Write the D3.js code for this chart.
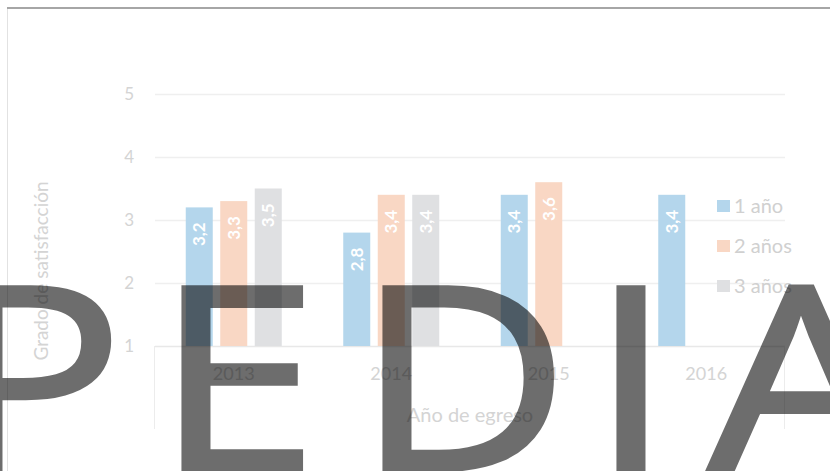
<!DOCTYPE html>
<html>
<head>
<meta charset="utf-8">
<script src="https://cdn.jsdelivr.net/npm/d3@7"></script>
<style>
  body { margin: 0; background: #fff; }
  svg { display: block; font-family: Lato, "Open Sans", sans-serif; }
</style>
</head>
<body>
<div id="root"></div>
<script>
const config = {
  width: 830,
  height: 471,
  left: 155,
  right: 785,
  top: 94,
  bottom: 346
};

// data
const years = ['2013', '2014', '2015', '2016'];
const series = ['1 año', '2 años', '3 años'];
const oneYear = [3.2, 2.8, 3.4, 3.4];
const twoYears = [3.3, 3.4, 3.6, null];
const threeYears = [3.5, 3.4, null, null];
const yTicks = [1, 2, 3, 4, 5];

const colors = ['#b4d6ec', '#f9d7c4', '#dfe0e2'];
const values = [oneYear, twoYears, threeYears];

const chart = d3.select('#root')
  .append('svg:svg')
  .attr('width', config.width)
  .attr('height', config.height);

// outer frame
chart.append('svg:path')
  .attr('d', `M7.5,${config.height} V7.5`)
  .attr('stroke', '#e2e2e2')
  .attr('fill', 'none');
chart.append('svg:line')
  .attr('x1', 7).attr('x2', config.width)
  .attr('y1', 8).attr('y2', 8)
  .attr('stroke', '#a6a6a6')
  .attr('stroke-width', 2);

const x0 = d3.scaleBand()
  .domain(years)
  .range([config.left, config.right]);

const groupWidth = 103.5;
const x1 = d3.scaleBand()
  .domain(series)
  .range([0, groupWidth])
  .paddingInner(0.217)
  .paddingOuter(0.1085);

const y = d3.scaleLinear()
  .domain([1, 5])
  .range([config.bottom, config.top]);

// gridlines
chart.append('svg:g')
  .selectAll('line')
  .data(yTicks)
  .enter()
    .append('svg:line')
    .attr('x1', config.left)
    .attr('x2', config.right)
    .attr('y1', d => Math.round(y(d)) + 0.5)
    .attr('y2', d => Math.round(y(d)) + 0.5)
    .attr('stroke', d => d === 1 ? '#e8e8e8' : '#efefef')
    .attr('stroke-width', 1.5);

// box below the category axis
chart.append('svg:g')
  .selectAll('line')
  .data([config.left, config.right])
  .enter()
    .append('svg:line')
    .attr('x1', d => d - 0.5)
    .attr('x2', d => d - 0.5)
    .attr('y1', config.bottom)
    .attr('y2', 429)
    .attr('stroke', '#ececec');

// y tick labels
chart.append('svg:g')
  .selectAll('text')
  .data(yTicks)
  .enter()
    .append('svg:text')
    .attr('x', 134)
    .attr('y', d => y(d) + 6)
    .attr('text-anchor', 'end')
    .attr('font-size', 17)
    .attr('fill', '#d4d4d4')
    .text(d => d);

// bars
const bars = [];
series.forEach((s, si) => {
  years.forEach((yr, yi) => {
    const v = values[si][yi];
    if (v != null) bars.push({ series: s, index: si, year: yr, value: v });
  });
});

const barX = d => x0(d.year) + (x0.bandwidth() - groupWidth) / 2 + x1(d.series);

chart.append('svg:g')
  .selectAll('rect')
  .data(bars)
  .enter()
    .append('svg:rect')
    .attr('x', barX)
    .attr('y', d => y(d.value))
    .attr('width', x1.bandwidth())
    .attr('height', d => y(1) - y(d.value))
    .attr('fill', d => colors[d.index]);

// value labels
chart.append('svg:g')
  .selectAll('text')
  .data(bars)
  .enter()
    .append('svg:text')
    .attr('transform', d => `translate(${barX(d) + x1.bandwidth() / 2},${y(d.value) + 15}) rotate(-90)`)
    .attr('text-anchor', 'end')
    .attr('dy', '0.36em')
    .attr('font-size', 17)
    .attr('font-weight', 700)
    .attr('fill', '#fff')
    .text(d => d3.format('.1f')(d.value).replace('.', ','));

// x tick labels
chart.append('svg:g')
  .selectAll('text')
  .data(years)
  .enter()
    .append('svg:text')
    .attr('x', d => x0(d) + x0.bandwidth() / 2)
    .attr('y', 380)
    .attr('text-anchor', 'middle')
    .attr('font-size', 18)
    .attr('fill', '#d4d4d4')
    .text(d => d);

// axis titles
chart.append('svg:text')
  .attr('x', 470)
  .attr('y', 422)
  .attr('text-anchor', 'middle')
  .attr('font-size', 20)
  .attr('fill', '#d4d4d4')
  .text('Año de egreso');

chart.append('svg:text')
  .attr('transform', 'translate(48,271) rotate(-90)')
  .attr('text-anchor', 'middle')
  .attr('font-size', 19)
  .attr('fill', '#d4d4d4')
  .text('Grado de satisfacción');

// legend
const legend = chart.append('svg:g')
  .selectAll('g')
  .data(series)
  .enter()
    .append('svg:g')
    .attr('transform', (d, i) => `translate(717,${200 + i * 40})`);

legend.append('svg:rect')
  .attr('width', 13)
  .attr('height', 12)
  .attr('fill', (d, i) => colors[i]);

legend.append('svg:text')
  .attr('x', 17)
  .attr('y', 13)
  .attr('font-size', 20)
  .attr('fill', '#d0d0d0')
  .text(d => d);

// watermark over the chart
const watermark = [
  { ch: 'P', x: -53 },
  { ch: 'E', x: 155 },
  { ch: 'D', x: 356 },
  { ch: 'I', x: 590 },
  { ch: 'A', x: 708 }
];

chart.append('svg:g')
  .attr('opacity', 0.57)
  .selectAll('text')
  .data(watermark)
  .enter()
    .append('svg:text')
    .attr('transform', d => `translate(${d.x},470) scale(1.15,1)`)
    .attr('font-family', '"Open Sans", sans-serif')
    .attr('font-size', 256)
    .attr('fill', '#000')
    .attr('stroke', '#000')
    .attr('stroke-width', 4)
    .attr('stroke-linejoin', 'miter')
    .text(d => d.ch);
</script>
</body>
</html>
